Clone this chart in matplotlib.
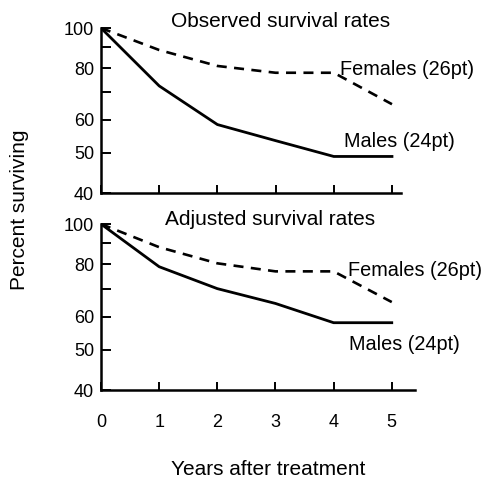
import matplotlib.pyplot as plt
from matplotlib.ticker import FixedLocator, NullLocator

plt.rcParams['font.family'] = ['Liberation Sans', 'DejaVu Sans']

# Данные: годы после лечения и процент выживших
years = [0, 1, 2, 3, 4, 5]

males_observed = [100, 72.5, 58.5, 53.5, 49, 49]
females_observed = [100, 88.5, 81, 78, 78, 65.5]

males_adjusted = [100, 79, 70, 64.5, 58, 58]
females_adjusted = [100, 88, 80.5, 77, 77, 65]

y_ticks = [40, 50, 60, 70, 80, 90, 100]
y_labels = ['40', '50', '60', '', '80', '', '100']

fig = plt.figure(figsize=(4.87, 4.83), dpi=100)

# (заголовок, мужчины, женщины, прямоугольник осей, xmax, подписи x,
#  позиция заголовка, позиция "Females", позиция "Males")
panels = [
    ('Observed survival rates', males_observed, females_observed,
     [0.2074, 0.6004, 0.6154, 0.3416], 5.15, False,
     (3.08, 1.006), (4.11, 0.715), (4.18, 0.279)),
    ('Adjusted survival rates', males_adjusted, females_adjusted,
     [0.2074, 0.1925, 0.6448, 0.3437], 5.4, True,
     (2.90, 0.994), (4.24, 0.687), (4.26, 0.241)),
]

for title, males, females, rect, xmax, show_x, tpos, fpos, mpos in panels:
    ax = fig.add_axes(rect)
    ax.plot(years, males, color='black', lw=2.0, solid_joinstyle='round')
    ax.plot(years, females, color='black', lw=1.9, linestyle=(0, (3.8, 2.8)))
    ax.set_yscale('log')
    ax.set_ylim(40, 100)
    ax.set_xlim(0, xmax)
    ax.yaxis.set_major_locator(FixedLocator(y_ticks))
    ax.yaxis.set_minor_locator(NullLocator())
    ax.set_yticklabels(y_labels)
    ax.set_xticks(years)
    if not show_x:
        ax.set_xticklabels([])
    for s in ['top', 'right']:
        ax.spines[s].set_visible(False)
    for s in ['left', 'bottom']:
        ax.spines[s].set_linewidth(1.8)
    ax.tick_params(axis='y', direction='in', length=7, width=1.4,
                   labelsize=13, pad=5)
    ax.tick_params(axis='x', direction='in', length=6, width=1.4,
                   labelsize=13, pad=17)
    tr = ax.get_xaxis_transform()
    ax.text(tpos[0], tpos[1], title, transform=tr, fontsize=15,
            ha='center', va='baseline', clip_on=False)
    ax.text(fpos[0], fpos[1], 'Females (26pt)', transform=tr, fontsize=14.3,
            ha='left', va='baseline')
    ax.text(mpos[0], mpos[1], 'Males (24pt)', transform=tr, fontsize=14.3,
            ha='left', va='baseline')

fig.text(0.041, 0.565, 'Percent surviving', rotation=90, fontsize=15,
         ha='center', va='center')
fig.text(0.551, 0.027, 'Years after treatment', fontsize=15,
         ha='center', va='center')

plt.savefig('out.png', dpi=100)
